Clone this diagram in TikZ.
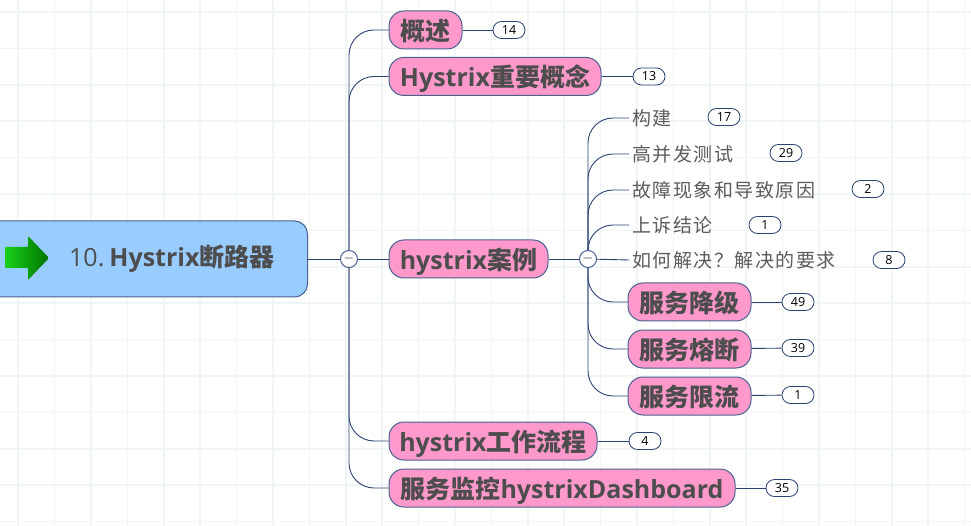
\documentclass[tikz,border=0pt]{standalone}
\usepackage{fontspec}
\setmainfont{Open Sans}
\newfontfamily\cjk{Noto Sans CJK SC}
\newfontfamily\cjkwide[LetterSpace=8]{Noto Sans CJK SC}
\definecolor{gridcol}{HTML}{F0F5F5}
\definecolor{linecol}{HTML}{2A4272}
\definecolor{edgecol}{HTML}{4A6190}
\definecolor{inkcol}{HTML}{4D4D4D}
\definecolor{leafcol}{HTML}{5C5C5C}
\definecolor{rootcol}{HTML}{99CCFF}
\definecolor{pinkcol}{HTML}{FF99CC}
\tikzset{
	link/.style={draw=linecol, line width=0.9pt},
	curvelink/.style={link, rounded corners=25pt},
	root/.style={draw=edgecol, line width=1pt, fill=rootcol, rounded corners=13pt, anchor=east, minimum width=340pt, minimum height=76pt, text width=274pt, inner xsep=33pt, inner ysep=0pt, align=right, text=inkcol, font=\fontsize{25}{27}\selectfont},
	topic/.style={draw=edgecol, line width=1pt, fill=pinkcol, rounded corners=15pt, anchor=west, minimum height=38pt, inner xsep=0pt, inner ysep=0pt, text height=22pt, text depth=1pt, text=inkcol, font=\fontsize{25}{27}\selectfont\bfseries},
	leaf/.style={anchor=west, inner sep=0pt, text=leafcol, font=\cjkwide\fontsize{19}{21}\selectfont},
	badge/.style={draw=linecol, line width=0.8pt, fill=white, rounded corners=8.5pt, minimum width=32pt, minimum height=17pt, inner sep=0pt, text=black, font=\fontsize{12.5}{14}\selectfont},
	hub/.style={circle, draw=edgecol, line width=1pt, fill=white, minimum size=17pt, inner sep=0pt, text=inkcol, font=\fontsize{12}{12}\selectfont\boldmath},
}
\begin{document}
\begin{tikzpicture}[x=1pt, y=-1pt]
	%%%%% START %%%%%
	\useasboundingbox (0, 0) rectangle (971, 526);
	\fill[white] (0, 0) rectangle (971, 526);
	\foreach \gx in {0, ..., 26}
		\draw[gridcol, line width=1.6pt] ({18.2+36.4*\gx}, 0) -- ({18.2+36.4*\gx}, 526);
	\foreach \gy in {0, ..., 14}
		\draw[gridcol, line width=1.6pt] (0, {12+36.4*\gy}) -- (971, {12+36.4*\gy});

	% main branches
	\node[root] (central) at (308, 259) {\raisebox{-1pt}{10.\hspace{5pt}\textbf{Hystrix}{\cjk\bfseries 断路器}}};
	\node[hub] (hubMain) at (349, 259) {$-$};
	\node[topic, minimum width=73pt] (overview) at (388.5, 30) {\cjk\bfseries 概述};
	\node[topic, minimum width=212pt] (concepts) at (388.5, 76.5) {Hystrix{\cjk\bfseries 重要概念}};
	\node[topic, minimum width=159pt] (cases) at (388.5, 259) {hystrix{\cjk\bfseries 案例}};
	\node[topic, minimum width=208pt] (workflow) at (388.5, 441) {hystrix{\cjk\bfseries 工作流程}};
	\node[topic, minimum width=346pt] (dashboard) at (388.5, 488) {{\cjk\bfseries 服务监控}hystrixDashboard};

	% children of the case branch
	\node[hub] (hubCases) at (588, 259) {$-$};
	\node[leaf] (build) at (632, 118) {构建};
	\node[leaf] (stress) at (632, 154) {高并发测试};
	\node[leaf] (fault) at (632, 190) {故障现象和导致原因};
	\node[leaf] (verdict) at (632, 225) {上诉结论};
	\node[leaf] (solve) at (632, 260) {如何解决？解决的要求};
	\node[topic, minimum width=123pt] (fallback) at (627.5, 302) {\cjk\bfseries 服务降级};
	\node[topic, minimum width=123pt] (breaker) at (627.5, 349) {\cjk\bfseries 服务熔断};
	\node[topic, minimum width=123pt] (limiter) at (627.5, 396) {\cjk\bfseries 服务限流};

	% counters
	\node[badge] (nOverview) at (509, 30) {14};
	\node[badge] (nConcepts) at (649, 76.5) {13};
	\node[badge] (nBuild) at (724, 117) {17};
	\node[badge] (nStress) at (786, 153) {29};
	\node[badge] (nFault) at (868, 189) {2};
	\node[badge] (nVerdict) at (765, 225) {1};
	\node[badge] (nSolve) at (889, 260) {8};
	\node[badge] (nFallback) at (798, 302) {49};
	\node[badge] (nBreaker) at (798, 348) {39};
	\node[badge] (nLimiter) at (798, 395) {1};
	\node[badge] (nWorkflow) at (645, 441) {4};
	\node[badge] (nDashboard) at (782, 488) {35};

	% connectors
	\draw[link] (central) -- (hubMain);
	\draw[link] (hubMain) -- (cases);
	\draw[curvelink] (hubMain) |- (overview);
	\draw[curvelink] (hubMain) |- (concepts);
	\draw[curvelink] (hubMain) |- (workflow);
	\draw[curvelink] (hubMain) |- (dashboard);
	\draw[link] (cases) -- (hubCases);
	\draw[curvelink] (hubCases) |- ([xshift=-3pt]build.west);
	\draw[curvelink] (hubCases) |- ([xshift=-3pt]stress.west);
	\draw[curvelink] (hubCases) |- ([xshift=-3pt]fault.west);
	\draw[curvelink] (hubCases) |- ([xshift=-3pt]verdict.west);
	\draw[link] (hubCases) -- ([xshift=-3pt]solve.west);
	\draw[curvelink] (hubCases) |- (fallback);
	\draw[curvelink] (hubCases) |- (breaker);
	\draw[curvelink] (hubCases) |- (limiter);
	\draw[link] (overview) -- (nOverview);
	\draw[link] (concepts) -- (nConcepts);
	\draw[link] (fallback) -- (nFallback);
	\draw[link] (breaker) -- (nBreaker);
	\draw[link] (limiter) -- (nLimiter);
	\draw[link] (workflow) -- (nWorkflow);
	\draw[link] (dashboard) -- (nDashboard);

	% arrow on the root
	\shade[left color=green!80!black!90, right color=green!45!black, rounded corners=1pt] (5, 247) -- (28, 247) -- (28, 236) -- (49, 258) -- (28, 280) -- (28, 268) -- (5, 268) -- cycle;
	%%%%% END %%%%%
\end{tikzpicture}
\end{document}
